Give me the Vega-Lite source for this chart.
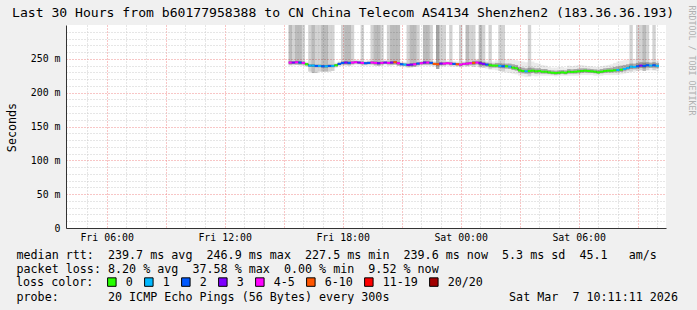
{
  "$schema": "https://vega.github.io/schema/vega-lite/v6.json",
  "width": 600,
  "height": 203,
  "autosize": {"type": "none"},
  "padding": {"left": 66, "top": 25, "right": 31, "bottom": 82},
  "background": "#f0f0f0",
  "title": {
    "text": "Last 30 Hours from b60177958388 to CN China Telecom AS4134 Shenzhen2 (183.36.36.193)",
    "anchor": "start",
    "frame": "group",
    "font": "DejaVu Sans Mono",
    "fontSize": 13.1,
    "fontWeight": "normal",
    "color": "#000000",
    "dx": -54,
    "dy": 21,
    "offset": 6
  },
  "data": {
    "values": [
      {"t": "2026-03-06T15:20:00Z", "med": 244.5, "loss": "4-5", "lo": 240.5, "q1": 242.5, "q3": 246.5, "hi": 320, "n": 2},
      {"t": "2026-03-06T15:30:00Z", "med": 244.5, "loss": "3", "lo": 240.5, "q1": 242.5, "q3": 246.5, "hi": 320, "n": 1},
      {"t": "2026-03-06T15:40:00Z", "med": 245, "loss": "4-5", "lo": 241, "q1": 243, "q3": 247, "hi": 320, "n": 2},
      {"t": "2026-03-06T15:50:00Z", "med": 244.5, "loss": "2", "lo": 240.5, "q1": 242.5, "q3": 246.5, "hi": 320, "n": 2},
      {"t": "2026-03-06T16:00:00Z", "med": 244, "loss": "4-5", "lo": 240, "q1": 242, "q3": 246, "hi": 320, "n": 1},
      {"t": "2026-03-06T16:10:00Z", "med": 242, "loss": "0", "lo": 238, "q1": 240, "q3": 244, "hi": 246, "n": 0},
      {"t": "2026-03-06T16:20:00Z", "med": 240, "loss": "1", "lo": 231, "q1": 238, "q3": 242, "hi": 320, "n": 1},
      {"t": "2026-03-06T16:30:00Z", "med": 240, "loss": "1", "lo": 229, "q1": 238, "q3": 242, "hi": 320, "n": 2},
      {"t": "2026-03-06T16:40:00Z", "med": 239.5, "loss": "2", "lo": 229, "q1": 237.5, "q3": 241.5, "hi": 320, "n": 1},
      {"t": "2026-03-06T16:50:00Z", "med": 239.5, "loss": "1", "lo": 231, "q1": 237.5, "q3": 241.5, "hi": 320, "n": 1},
      {"t": "2026-03-06T17:00:00Z", "med": 239, "loss": "2", "lo": 231, "q1": 237, "q3": 241, "hi": 320, "n": 2},
      {"t": "2026-03-06T17:10:00Z", "med": 239, "loss": "1", "lo": 231, "q1": 237, "q3": 241, "hi": 320, "n": 2},
      {"t": "2026-03-06T17:20:00Z", "med": 239.5, "loss": "2", "lo": 231, "q1": 237.5, "q3": 241.5, "hi": 320, "n": 1},
      {"t": "2026-03-06T17:30:00Z", "med": 239.5, "loss": "1", "lo": 232, "q1": 237.5, "q3": 241.5, "hi": 320, "n": 1},
      {"t": "2026-03-06T17:40:00Z", "med": 240.5, "loss": "0", "lo": 236.5, "q1": 238.5, "q3": 242.5, "hi": 244.5, "n": 0},
      {"t": "2026-03-06T17:50:00Z", "med": 242.5, "loss": "2", "lo": 238.5, "q1": 240.5, "q3": 244.5, "hi": 246.5, "n": 0},
      {"t": "2026-03-06T18:00:00Z", "med": 244, "loss": "2", "lo": 240, "q1": 242, "q3": 246, "hi": 320, "n": 1},
      {"t": "2026-03-06T18:10:00Z", "med": 244.5, "loss": "3", "lo": 240.5, "q1": 242.5, "q3": 246.5, "hi": 320, "n": 2},
      {"t": "2026-03-06T18:20:00Z", "med": 244, "loss": "2", "lo": 240, "q1": 242, "q3": 246, "hi": 320, "n": 2},
      {"t": "2026-03-06T18:30:00Z", "med": 244.5, "loss": "4-5", "lo": 240.5, "q1": 242.5, "q3": 246.5, "hi": 320, "n": 1},
      {"t": "2026-03-06T18:40:00Z", "med": 245, "loss": "4-5", "lo": 241, "q1": 243, "q3": 247, "hi": 249, "n": 0},
      {"t": "2026-03-06T18:50:00Z", "med": 244.5, "loss": "3", "lo": 240.5, "q1": 242.5, "q3": 246.5, "hi": 248.5, "n": 0},
      {"t": "2026-03-06T19:00:00Z", "med": 244, "loss": "4-5", "lo": 240, "q1": 242, "q3": 246, "hi": 320, "n": 1},
      {"t": "2026-03-06T19:10:00Z", "med": 243.5, "loss": "2", "lo": 239.5, "q1": 241.5, "q3": 245.5, "hi": 247.5, "n": 0},
      {"t": "2026-03-06T19:20:00Z", "med": 244, "loss": "2", "lo": 240, "q1": 242, "q3": 246, "hi": 248, "n": 0},
      {"t": "2026-03-06T19:30:00Z", "med": 244.5, "loss": "4-5", "lo": 240.5, "q1": 242.5, "q3": 246.5, "hi": 320, "n": 1},
      {"t": "2026-03-06T19:40:00Z", "med": 244, "loss": "4-5", "lo": 240, "q1": 242, "q3": 246, "hi": 320, "n": 2},
      {"t": "2026-03-06T19:50:00Z", "med": 243.5, "loss": "3", "lo": 239.5, "q1": 241.5, "q3": 245.5, "hi": 320, "n": 2},
      {"t": "2026-03-06T20:00:00Z", "med": 244, "loss": "4-5", "lo": 240, "q1": 242, "q3": 246, "hi": 320, "n": 1},
      {"t": "2026-03-06T20:10:00Z", "med": 244.5, "loss": "3", "lo": 240.5, "q1": 242.5, "q3": 246.5, "hi": 248.5, "n": 0},
      {"t": "2026-03-06T20:20:00Z", "med": 244, "loss": "4-5", "lo": 240, "q1": 242, "q3": 246, "hi": 320, "n": 1},
      {"t": "2026-03-06T20:30:00Z", "med": 244.5, "loss": "3", "lo": 240.5, "q1": 242.5, "q3": 246.5, "hi": 320, "n": 2},
      {"t": "2026-03-06T20:40:00Z", "med": 245, "loss": "6-10", "lo": 241, "q1": 243, "q3": 247, "hi": 320, "n": 2},
      {"t": "2026-03-06T20:50:00Z", "med": 243.5, "loss": "4-5", "lo": 239.5, "q1": 241.5, "q3": 245.5, "hi": 320, "n": 2},
      {"t": "2026-03-06T21:00:00Z", "med": 242, "loss": "2", "lo": 238, "q1": 240, "q3": 244, "hi": 246, "n": 0},
      {"t": "2026-03-06T21:10:00Z", "med": 241.5, "loss": "1", "lo": 237.5, "q1": 239.5, "q3": 243.5, "hi": 245.5, "n": 0},
      {"t": "2026-03-06T21:20:00Z", "med": 241, "loss": "3", "lo": 237, "q1": 239, "q3": 243, "hi": 320, "n": 1},
      {"t": "2026-03-06T21:30:00Z", "med": 241.5, "loss": "3", "lo": 237.5, "q1": 239.5, "q3": 243.5, "hi": 320, "n": 2},
      {"t": "2026-03-06T21:40:00Z", "med": 242, "loss": "4-5", "lo": 238, "q1": 240, "q3": 244, "hi": 320, "n": 2},
      {"t": "2026-03-06T21:50:00Z", "med": 243, "loss": "2", "lo": 239, "q1": 241, "q3": 245, "hi": 320, "n": 1},
      {"t": "2026-03-06T22:00:00Z", "med": 243.5, "loss": "4-5", "lo": 239.5, "q1": 241.5, "q3": 245.5, "hi": 247.5, "n": 0},
      {"t": "2026-03-06T22:10:00Z", "med": 244.5, "loss": "3", "lo": 240.5, "q1": 242.5, "q3": 246.5, "hi": 320, "n": 2},
      {"t": "2026-03-06T22:20:00Z", "med": 244.5, "loss": "4-5", "lo": 240.5, "q1": 242.5, "q3": 246.5, "hi": 320, "n": 2},
      {"t": "2026-03-06T22:30:00Z", "med": 244, "loss": "2", "lo": 240, "q1": 242, "q3": 246, "hi": 320, "n": 1},
      {"t": "2026-03-06T22:40:00Z", "med": 242.5, "loss": "6-10", "lo": 238.5, "q1": 240.5, "q3": 244.5, "hi": 246.5, "n": 0},
      {"t": "2026-03-06T22:50:00Z", "med": 242, "loss": "6-10", "lo": 235, "q1": 240, "q3": 244, "hi": 320, "n": 3},
      {"t": "2026-03-06T23:00:00Z", "med": 243, "loss": "3", "lo": 239, "q1": 241, "q3": 245, "hi": 320, "n": 1},
      {"t": "2026-03-06T23:10:00Z", "med": 243, "loss": "4-5", "lo": 239, "q1": 241, "q3": 245, "hi": 320, "n": 1},
      {"t": "2026-03-06T23:20:00Z", "med": 243.5, "loss": "4-5", "lo": 239.5, "q1": 241.5, "q3": 245.5, "hi": 247.5, "n": 0},
      {"t": "2026-03-06T23:30:00Z", "med": 243, "loss": "4-5", "lo": 239, "q1": 241, "q3": 245, "hi": 320, "n": 1},
      {"t": "2026-03-06T23:40:00Z", "med": 242.5, "loss": "2", "lo": 238.5, "q1": 240.5, "q3": 244.5, "hi": 246.5, "n": 0},
      {"t": "2026-03-06T23:50:00Z", "med": 242, "loss": "6-10", "lo": 238, "q1": 240, "q3": 244, "hi": 246, "n": 0},
      {"t": "2026-03-07T00:00:00Z", "med": 241.5, "loss": "4-5", "lo": 237.5, "q1": 239.5, "q3": 243.5, "hi": 320, "n": 1},
      {"t": "2026-03-07T00:10:00Z", "med": 242.5, "loss": "4-5", "lo": 238.5, "q1": 240.5, "q3": 244.5, "hi": 246.5, "n": 0},
      {"t": "2026-03-07T00:20:00Z", "med": 243, "loss": "4-5", "lo": 239, "q1": 241, "q3": 245, "hi": 320, "n": 2},
      {"t": "2026-03-07T00:30:00Z", "med": 243.5, "loss": "4-5", "lo": 239.5, "q1": 241.5, "q3": 245.5, "hi": 320, "n": 1},
      {"t": "2026-03-07T00:40:00Z", "med": 244, "loss": "6-10", "lo": 238, "q1": 241, "q3": 247, "hi": 320, "n": 1},
      {"t": "2026-03-07T00:50:00Z", "med": 244.5, "loss": "4-5", "lo": 238.5, "q1": 241.5, "q3": 247.5, "hi": 250, "n": 0},
      {"t": "2026-03-07T01:00:00Z", "med": 243.5, "loss": "3", "lo": 237.5, "q1": 240.5, "q3": 246.5, "hi": 320, "n": 2},
      {"t": "2026-03-07T01:10:00Z", "med": 242.5, "loss": "3", "lo": 236.5, "q1": 239.5, "q3": 245.5, "hi": 320, "n": 1},
      {"t": "2026-03-07T01:20:00Z", "med": 241.5, "loss": "2", "lo": 235.5, "q1": 238.5, "q3": 244.5, "hi": 247.5, "n": 0},
      {"t": "2026-03-07T01:30:00Z", "med": 240.5, "loss": "0", "lo": 234.5, "q1": 237.5, "q3": 243.5, "hi": 320, "n": 1},
      {"t": "2026-03-07T01:40:00Z", "med": 240, "loss": "0", "lo": 234, "q1": 237, "q3": 243, "hi": 246, "n": 0},
      {"t": "2026-03-07T01:50:00Z", "med": 240, "loss": "0", "lo": 233, "q1": 237, "q3": 244, "hi": 248, "n": 0},
      {"t": "2026-03-07T02:00:00Z", "med": 239.5, "loss": "1", "lo": 232, "q1": 236.5, "q3": 243.5, "hi": 320, "n": 1},
      {"t": "2026-03-07T02:10:00Z", "med": 239, "loss": "2", "lo": 231, "q1": 236, "q3": 243, "hi": 320, "n": 1},
      {"t": "2026-03-07T02:20:00Z", "med": 239, "loss": "0", "lo": 230, "q1": 235.5, "q3": 243, "hi": 249, "n": 0},
      {"t": "2026-03-07T02:30:00Z", "med": 238.5, "loss": "1", "lo": 229, "q1": 235, "q3": 243, "hi": 250, "n": 0},
      {"t": "2026-03-07T02:40:00Z", "med": 237, "loss": "0", "lo": 228, "q1": 233.5, "q3": 242, "hi": 249, "n": 0},
      {"t": "2026-03-07T02:50:00Z", "med": 236, "loss": "0", "lo": 227, "q1": 232.5, "q3": 241, "hi": 248, "n": 0},
      {"t": "2026-03-07T03:00:00Z", "med": 233, "loss": "0", "lo": 225, "q1": 229.5, "q3": 238, "hi": 247, "n": 0},
      {"t": "2026-03-07T03:10:00Z", "med": 232, "loss": "0", "lo": 224, "q1": 228.5, "q3": 237, "hi": 246, "n": 0},
      {"t": "2026-03-07T03:20:00Z", "med": 231.5, "loss": "1", "lo": 223, "q1": 228, "q3": 236, "hi": 245, "n": 0},
      {"t": "2026-03-07T03:30:00Z", "med": 232, "loss": "0", "lo": 224, "q1": 228.5, "q3": 237, "hi": 320, "n": 1},
      {"t": "2026-03-07T03:40:00Z", "med": 232.5, "loss": "0", "lo": 225, "q1": 229, "q3": 237, "hi": 246, "n": 0},
      {"t": "2026-03-07T03:50:00Z", "med": 231.5, "loss": "0", "lo": 224, "q1": 228, "q3": 236, "hi": 244, "n": 0},
      {"t": "2026-03-07T04:00:00Z", "med": 232, "loss": "0", "lo": 225, "q1": 228.5, "q3": 236, "hi": 243, "n": 0},
      {"t": "2026-03-07T04:10:00Z", "med": 231, "loss": "0", "lo": 225, "q1": 228, "q3": 235, "hi": 241, "n": 0},
      {"t": "2026-03-07T04:20:00Z", "med": 231, "loss": "0", "lo": 225, "q1": 228, "q3": 235, "hi": 240, "n": 0},
      {"t": "2026-03-07T04:30:00Z", "med": 230, "loss": "0", "lo": 225, "q1": 227.5, "q3": 233.5, "hi": 238, "n": 0},
      {"t": "2026-03-07T04:40:00Z", "med": 229.5, "loss": "0", "lo": 225, "q1": 227, "q3": 233, "hi": 237, "n": 0},
      {"t": "2026-03-07T04:50:00Z", "med": 229, "loss": "0", "lo": 224, "q1": 226.5, "q3": 232.5, "hi": 237, "n": 0},
      {"t": "2026-03-07T05:00:00Z", "med": 229.5, "loss": "0", "lo": 225, "q1": 227, "q3": 233, "hi": 238, "n": 0},
      {"t": "2026-03-07T05:10:00Z", "med": 230, "loss": "0", "lo": 225, "q1": 227.5, "q3": 233.5, "hi": 238, "n": 0},
      {"t": "2026-03-07T05:20:00Z", "med": 229.5, "loss": "0", "lo": 225, "q1": 227, "q3": 233, "hi": 237, "n": 0},
      {"t": "2026-03-07T05:30:00Z", "med": 231, "loss": "0", "lo": 225, "q1": 228, "q3": 235, "hi": 240, "n": 0},
      {"t": "2026-03-07T05:40:00Z", "med": 230.5, "loss": "0", "lo": 225, "q1": 228, "q3": 234.5, "hi": 239, "n": 0},
      {"t": "2026-03-07T05:50:00Z", "med": 231, "loss": "0", "lo": 225, "q1": 228, "q3": 235, "hi": 240, "n": 0},
      {"t": "2026-03-07T06:00:00Z", "med": 231.5, "loss": "0", "lo": 225, "q1": 228.5, "q3": 235.5, "hi": 241, "n": 0},
      {"t": "2026-03-07T06:10:00Z", "med": 232, "loss": "0", "lo": 226, "q1": 229, "q3": 236, "hi": 241, "n": 0},
      {"t": "2026-03-07T06:20:00Z", "med": 232.5, "loss": "0", "lo": 226, "q1": 229.5, "q3": 236, "hi": 240, "n": 0},
      {"t": "2026-03-07T06:30:00Z", "med": 232, "loss": "0", "lo": 226, "q1": 229, "q3": 235.5, "hi": 239, "n": 0},
      {"t": "2026-03-07T06:40:00Z", "med": 231.5, "loss": "0", "lo": 226, "q1": 229, "q3": 235, "hi": 239, "n": 0},
      {"t": "2026-03-07T06:50:00Z", "med": 231, "loss": "0", "lo": 225, "q1": 228.5, "q3": 234.5, "hi": 238, "n": 0},
      {"t": "2026-03-07T07:00:00Z", "med": 230, "loss": "0", "lo": 225, "q1": 228, "q3": 234, "hi": 238, "n": 0},
      {"t": "2026-03-07T07:10:00Z", "med": 231, "loss": "0", "lo": 225, "q1": 228.5, "q3": 235, "hi": 239, "n": 0},
      {"t": "2026-03-07T07:20:00Z", "med": 232, "loss": "0", "lo": 226, "q1": 229, "q3": 236, "hi": 240, "n": 0},
      {"t": "2026-03-07T07:30:00Z", "med": 232.5, "loss": "0", "lo": 226, "q1": 229.5, "q3": 236.5, "hi": 241, "n": 0},
      {"t": "2026-03-07T07:40:00Z", "med": 232.5, "loss": "0", "lo": 226, "q1": 229.5, "q3": 237, "hi": 242, "n": 0},
      {"t": "2026-03-07T07:50:00Z", "med": 233, "loss": "0", "lo": 226, "q1": 230, "q3": 238, "hi": 244, "n": 0},
      {"t": "2026-03-07T08:00:00Z", "med": 233.5, "loss": "1", "lo": 226, "q1": 230, "q3": 239, "hi": 246, "n": 0},
      {"t": "2026-03-07T08:10:00Z", "med": 234, "loss": "0", "lo": 227, "q1": 230.5, "q3": 240, "hi": 247, "n": 0},
      {"t": "2026-03-07T08:20:00Z", "med": 235, "loss": "1", "lo": 228, "q1": 231.5, "q3": 241, "hi": 248, "n": 0},
      {"t": "2026-03-07T08:30:00Z", "med": 236.5, "loss": "1", "lo": 229, "q1": 233, "q3": 242, "hi": 249, "n": 0},
      {"t": "2026-03-07T08:40:00Z", "med": 238.5, "loss": "1", "lo": 231, "q1": 235, "q3": 243, "hi": 320, "n": 1},
      {"t": "2026-03-07T08:50:00Z", "med": 238, "loss": "1", "lo": 231, "q1": 234.5, "q3": 243, "hi": 250, "n": 0},
      {"t": "2026-03-07T09:00:00Z", "med": 239, "loss": "2", "lo": 232, "q1": 235.5, "q3": 244, "hi": 320, "n": 1},
      {"t": "2026-03-07T09:10:00Z", "med": 240, "loss": "3", "lo": 233, "q1": 236.5, "q3": 245, "hi": 320, "n": 1},
      {"t": "2026-03-07T09:20:00Z", "med": 239.5, "loss": "2", "lo": 232, "q1": 236, "q3": 244.5, "hi": 320, "n": 2},
      {"t": "2026-03-07T09:30:00Z", "med": 240.5, "loss": "2", "lo": 233, "q1": 237, "q3": 245, "hi": 320, "n": 1},
      {"t": "2026-03-07T09:40:00Z", "med": 240, "loss": "1", "lo": 233, "q1": 236.5, "q3": 244.5, "hi": 249, "n": 0},
      {"t": "2026-03-07T09:50:00Z", "med": 240.5, "loss": "2", "lo": 233, "q1": 237, "q3": 245, "hi": 320, "n": 1},
      {"t": "2026-03-07T10:00:00Z", "med": 239.6, "loss": "1", "lo": 232, "q1": 236, "q3": 244, "hi": 248, "n": 0}
    ]
  },
  "encoding": {
    "x": {
      "field": "t",
      "type": "temporal",
      "scale": {
        "type": "utc",
        "nice": false,
        "domain": [
          {"year": 2026, "month": 3, "date": 6, "hours": 4, "minutes": 11, "seconds": 11, "utc": true},
          {"year": 2026, "month": 3, "date": 7, "hours": 10, "minutes": 11, "seconds": 11, "utc": true}
        ]
      },
      "axis": {
        "values": [1772773200000, 1772776800000, 1772780400000, 1772784000000, 1772787600000, 1772791200000, 1772794800000, 1772798400000, 1772802000000, 1772805600000, 1772809200000, 1772812800000, 1772816400000, 1772820000000, 1772823600000, 1772827200000, 1772830800000, 1772834400000, 1772838000000, 1772841600000, 1772845200000, 1772848800000, 1772852400000, 1772856000000, 1772859600000, 1772863200000, 1772866800000, 1772870400000, 1772874000000, 1772877600000],
        "format": "%a %H:%M",
        "labelExpr": "utchours(datum.value) % 6 === 0 ? datum.label : ''",
        "labelOverlap": false,
        "labelFlush": false,
        "labelFont": "DejaVu Sans Mono",
        "labelFontSize": 9.9,
        "labelColor": "#000000",
        "labelPadding": 4,
        "ticks": false,
        "grid": true,
        "gridDash": [1, 2],
        "gridColor": {"condition": {"test": "utchours(datum.value) % 3 === 0", "value": "#f08c8c"}, "value": "#cccccc"},
        "gridOpacity": 1,
        "domainColor": "#333333",
        "title": [
          "median rtt:\u00a0\u00a0239.7 ms avg\u00a0\u00a0246.9 ms max\u00a0\u00a0227.5 ms min\u00a0\u00a0239.6 ms now\u00a0\u00a05.3 ms sd\u00a0\u00a045.1\u00a0\u00a0\u00a0am/s",
          "packet loss: 8.20 % avg\u00a0\u00a037.58 % max\u00a0\u00a00.00 % min\u00a0\u00a09.52 % now"
        ],
        "titleFont": "DejaVu Sans Mono",
        "titleFontSize": 11.7,
        "titleFontWeight": "normal",
        "titleColor": "#000000",
        "titleAlign": "left",
        "titleAnchor": "start",
        "titleBaseline": "alphabetic",
        "titleLineHeight": 14.3,
        "titleX": -50,
        "titleY": 30
      }
    }
  },
  "layer": [
    {
      "mark": {"type": "bar", "size": 3.4, "color": "#000000", "clip": true},
      "encoding": {
        "y": {
          "field": "lo",
          "type": "quantitative",
          "scale": {"domain": [0, 300]},
          "axis": {
            "values": [0, 10, 20, 30, 40, 50, 60, 70, 80, 90, 100, 110, 120, 130, 140, 150, 160, 170, 180, 190, 200, 210, 220, 230, 240, 250, 260, 270, 280, 290],
            "labelExpr": "datum.value % 50 === 0 ? (datum.value === 0 ? '0' : datum.value + ' m') : ''",
            "labelOverlap": false,
            "labelFont": "DejaVu Sans Mono",
            "labelFontSize": 9.9,
            "labelColor": "#000000",
            "labelPadding": 6,
            "ticks": false,
            "grid": true,
            "gridDash": [1, 2],
            "gridColor": {"condition": {"test": "datum.value % 50 === 0", "value": "#f08c8c"}, "value": "#cccccc"},
            "gridOpacity": 1,
            "domainColor": "#333333",
            "title": "Seconds",
            "titleFont": "DejaVu Sans Mono",
            "titleFontSize": 11.7,
            "titleFontWeight": "normal",
            "titleColor": "#000000",
            "titleAngle": 270,
            "titleAlign": "center",
            "titleBaseline": "middle",
            "titleX": -55,
            "titleY": 102
          }
        },
        "y2": {"field": "hi"},
        "opacity": {"field": "n", "type": "quantitative", "scale": {"domain": [0, 3], "range": [0.08, 0.36]}, "legend": null}
      }
    },
    {
      "mark": {"type": "bar", "size": 3.4, "color": "#000000", "opacity": 0.28, "clip": true},
      "encoding": {
        "y": {
          "field": "q1",
          "type": "quantitative",
          "scale": {"domain": [0, 300]},
          "axis": {
            "orient": "left",
            "labels": false,
            "ticks": false,
            "domain": false,
            "grid": false,
            "title": "probe:\u00a0\u00a0\u00a0\u00a0\u00a0\u00a0\u00a020 ICMP Echo Pings (56 Bytes) every 300s\u00a0\u00a0\u00a0\u00a0\u00a0\u00a0\u00a0\u00a0\u00a0\u00a0\u00a0\u00a0\u00a0\u00a0\u00a0\u00a0\u00a0Sat Mar\u00a0\u00a07 10:11:11 2026",
            "titleFont": "DejaVu Sans Mono",
            "titleFontSize": 11.7,
            "titleFontWeight": "normal",
            "titleColor": "#000000",
            "titleAngle": 0,
            "titleAlign": "left",
            "titleBaseline": "alphabetic",
            "titleX": -50,
            "titleY": 275.5
          }
        },
        "y2": {"field": "q3"}
      }
    },
    {
      "mark": {"type": "line", "interpolate": "step", "color": "#222222", "strokeWidth": 1},
      "encoding": {
        "y": {
          "field": "med",
          "type": "quantitative",
          "scale": {"domain": [0, 300]},
          "axis": {
            "orient": "right",
            "labels": false,
            "ticks": false,
            "domain": false,
            "grid": false,
            "title": "RRDTOOL / TOBI OETIKER",
            "titleFont": "DejaVu Sans Mono",
            "titleFontSize": 8.3,
            "titleFontWeight": "normal",
            "titleColor": "#b0b0b0",
            "titleAngle": 90,
            "titleAlign": "left",
            "titleBaseline": "middle",
            "titleX": 24,
            "titleY": -20
          }
        }
      }
    },
    {
      "mark": {"type": "tick", "orient": "horizontal", "size": 3.4, "thickness": 2, "opacity": 1},
      "encoding": {
        "y": {"field": "med", "type": "quantitative", "scale": {"domain": [0, 300]}, "axis": null},
        "color": {
          "field": "loss",
          "type": "nominal",
          "scale": {
            "domain": ["0", "1", "2", "3", "4-5", "6-10", "11-19", "20/20"],
            "range": ["#26ff00", "#00b8ff", "#0059ff", "#7e00ff", "#ff00ff", "#ff5500", "#ff0000", "#a10000"]
          },
          "legend": {
            "title": "loss color:",
            "orient": "none",
            "legendX": -50,
            "legendY": 251,
            "direction": "horizontal",
            "titleOrient": "left",
            "titlePadding": 12,
            "titleFont": "DejaVu Sans Mono",
            "titleFontSize": 11.7,
            "titleFontWeight": "normal",
            "titleColor": "#000000",
            "titleBaseline": "middle",
            "symbolType": "square",
            "symbolSize": 72,
            "symbolStrokeColor": "#000000",
            "symbolStrokeWidth": 1,
            "symbolOpacity": 1,
            "labelFont": "DejaVu Sans Mono",
            "labelFontSize": 11.7,
            "labelColor": "#000000",
            "labelOffset": 8,
            "columnPadding": 9,
            "padding": 0
          }
        }
      }
    }
  ],
  "resolve": {"scale": {"y": "independent"}},
  "config": {
    "view": {"fill": "#ffffff", "stroke": null},
    "font": "DejaVu Sans Mono"
  }
}
